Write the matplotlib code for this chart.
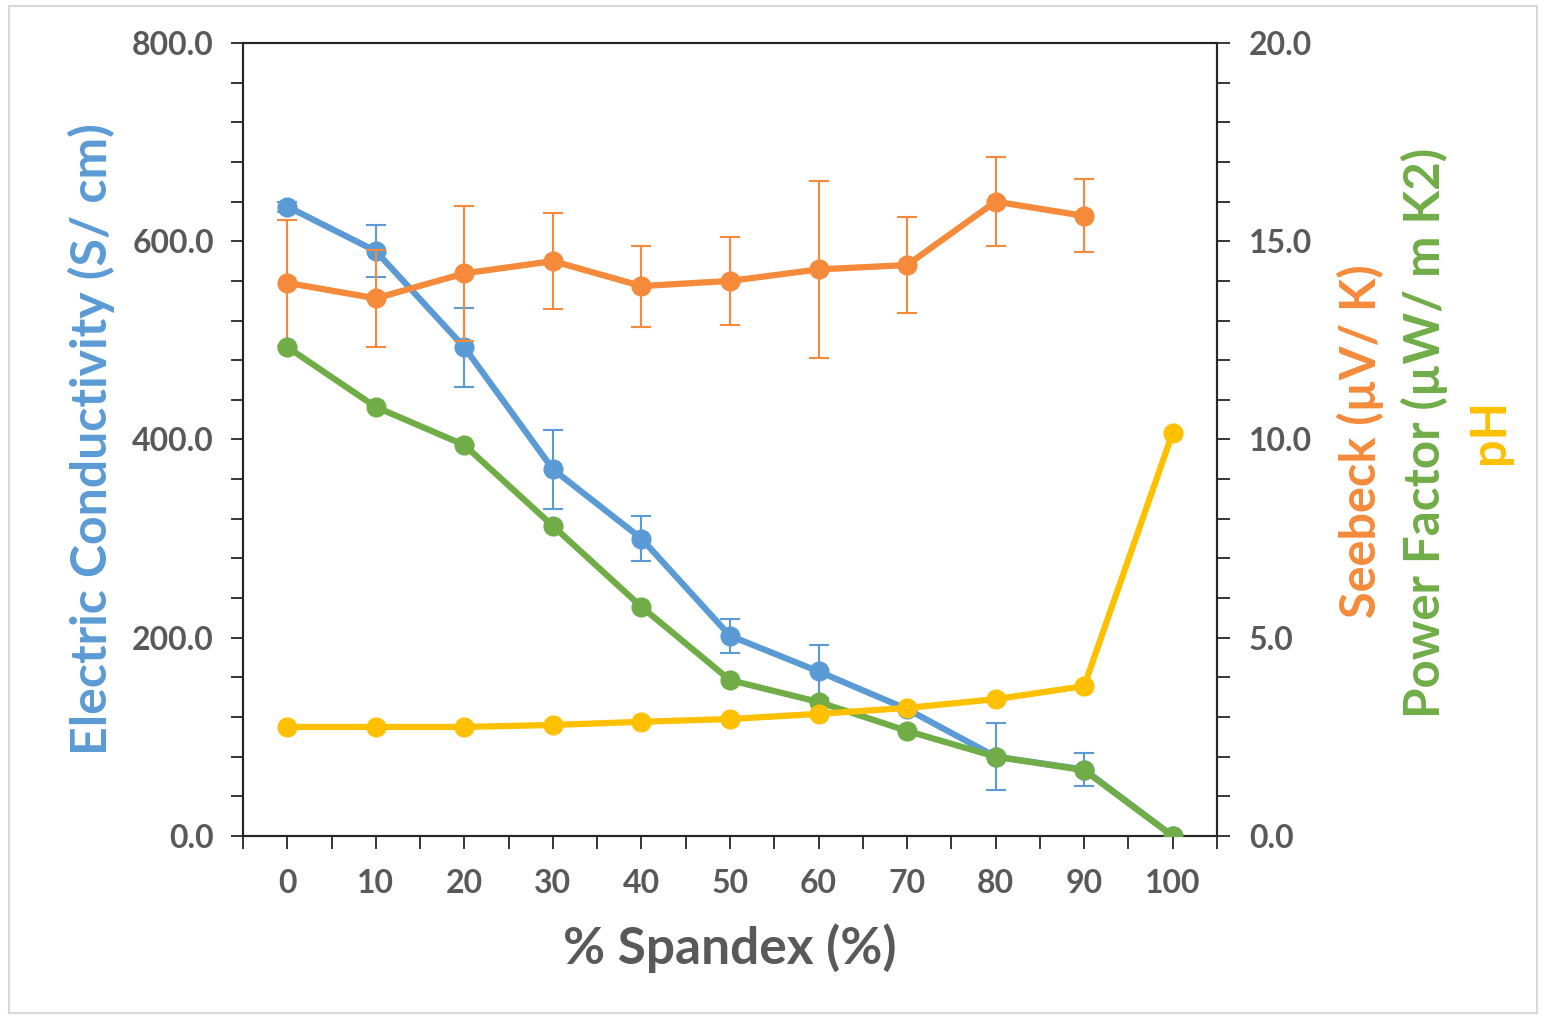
import matplotlib
matplotlib.use("Agg")
import matplotlib.pyplot as plt
from matplotlib.patches import Rectangle
from matplotlib.ticker import MultipleLocator, FormatStrFormatter

plt.rcParams["font.family"] = ["Lato", "DejaVu Sans"]
plt.rcParams["font.weight"] = "bold"
plt.rcParams["axes.labelweight"] = "bold"

spandex = [0, 10, 20, 30, 40, 50, 60, 70, 80, 90, 100]

conductivity = [635, 590, 493, 370, 300, 202, 166, 128, 80, 67, 0]
conductivity_err = [5, 26, 40, 40, 23, 17, 27, 0, 34, 17, 0]

seebeck_x = [0, 10, 20, 30, 40, 50, 60, 70, 80, 90]
seebeck = [13.95, 13.56, 14.19, 14.50, 13.87, 14.00, 14.29, 14.40, 16.00, 15.64]
seebeck_err = [1.58, 1.22, 1.71, 1.21, 1.02, 1.10, 2.24, 1.21, 1.13, 0.92]

power_factor = [12.33, 10.82, 9.86, 7.82, 5.78, 3.93, 3.38, 2.65, 2.00, 1.66, 0.0]

ph = [2.75, 2.75, 2.75, 2.80, 2.88, 2.95, 3.08, 3.23, 3.45, 3.78, 10.17]

BLUE = "#5B9BD5"
ORANGE = "#F58A3A"
GREEN = "#70AD47"
YELLOW = "#FFC000"
GRAY = "#595959"

fig = plt.figure(figsize=(15.42, 10.17), dpi=100)
fig.patches.append(Rectangle((0.006, 0.004), 0.991, 0.99, transform=fig.transFigure,
                             fill=False, edgecolor="#D9D9D9", linewidth=1.5))

ax = fig.add_axes([0.1576, 0.178, 0.6316, 0.7797])
ax2 = ax.twinx()

LW = 4.5
MS = 13.5
line_kw = dict(linewidth=LW, marker="o", markersize=MS, capsize=7, elinewidth=1.5, capthick=1.5)

ax.errorbar(spandex, conductivity, yerr=conductivity_err, color=BLUE, ecolor=BLUE, **line_kw)
ax2.errorbar(seebeck_x, seebeck, yerr=seebeck_err, color=ORANGE, ecolor=ORANGE, zorder=3, **line_kw)
ax2.plot(spandex, power_factor, color=GREEN, linewidth=LW, marker="o", markersize=MS, zorder=4)
ax2.plot(spandex, ph, color=YELLOW, linewidth=LW, marker="o", markersize=MS, zorder=5)

ax.set_xlim(-5, 105)
ax.set_ylim(0, 800)
ax2.set_ylim(0, 20)

ax.xaxis.set_major_locator(MultipleLocator(10))
ax.xaxis.set_minor_locator(MultipleLocator(5))
ax.yaxis.set_major_locator(MultipleLocator(200))
ax.yaxis.set_minor_locator(MultipleLocator(40))
ax2.yaxis.set_major_locator(MultipleLocator(5))
ax2.yaxis.set_minor_locator(MultipleLocator(1))
ax.yaxis.set_major_formatter(FormatStrFormatter("%.1f"))
ax2.yaxis.set_major_formatter(FormatStrFormatter("%.1f"))

for a in (ax, ax2):
    for s in a.spines.values():
        s.set_color("#262626")
        s.set_linewidth(1.5)
    a.tick_params(which="both", direction="out", length=9, width=1.3, color="#262626",
                  labelsize=23, labelcolor=GRAY)
ax.tick_params(axis="x", which="major", pad=15)
ax.tick_params(axis="y", which="major", pad=12)
ax2.tick_params(axis="y", which="major", pad=14)
ax.set_xticks(spandex)
ax.set_xticks([-5, 5, 15, 25, 35, 45, 55, 65, 75, 85, 95, 105], minor=True)

ax.set_xlabel("% Spandex (%)", fontsize=37, color=GRAY, labelpad=18)
ax.set_ylabel("Electric Conductivity (S/ cm)", fontsize=36, color=BLUE, labelpad=12)

fig.text(0.882, 0.566, "Seebeck (µV/ K)", rotation=90, ha="center", va="center",
         fontsize=35, color=ORANGE, fontweight="bold")
fig.text(0.924, 0.574, "Power Factor (µW/ m K2)", rotation=90, ha="center", va="center",
         fontsize=35.5, color=GREEN, fontweight="bold")
fig.text(0.966, 0.576, "pH", rotation=90, ha="center", va="center",
         fontsize=35, color=YELLOW, fontweight="bold")

fig.savefig("out.png", dpi=100)
